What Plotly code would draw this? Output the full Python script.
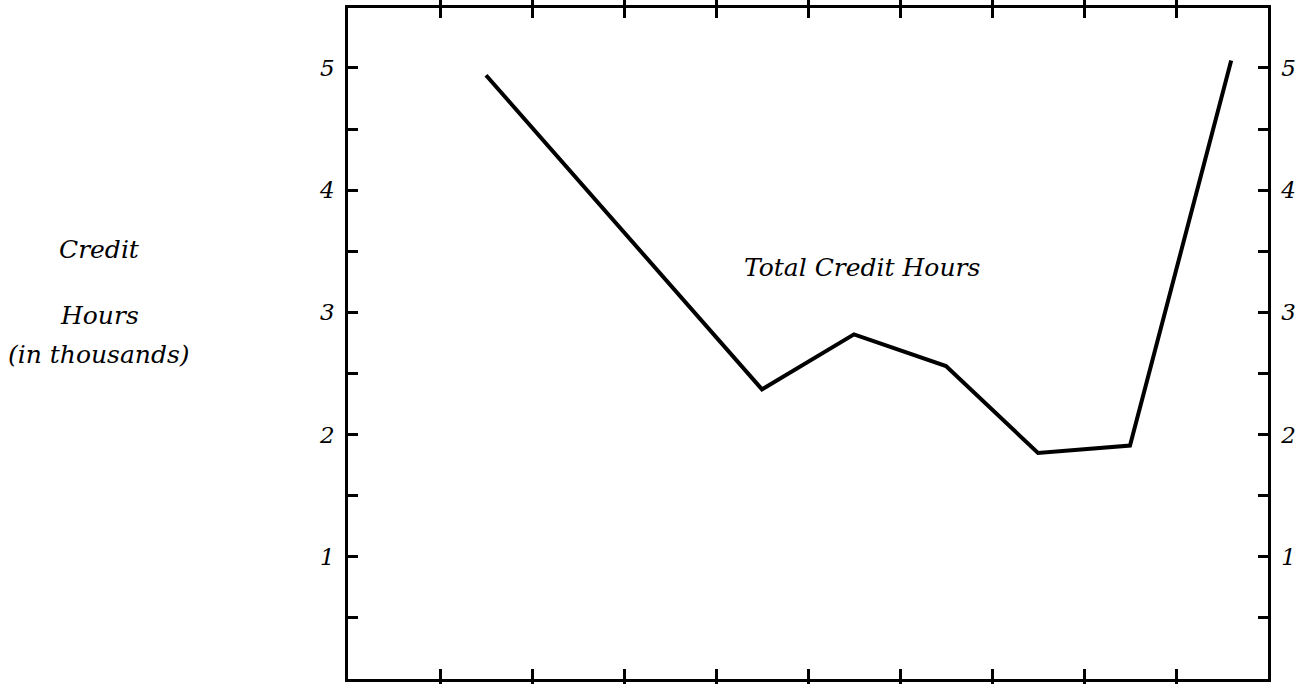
import plotly.graph_objects as go

# Term positions along the horizontal axis (ten equal divisions) and total credit hours (thousands)
term_pos = [1.5, 3.5, 4.5, 5.5, 6.5, 7.5, 8.5, 9.6]
credit_hours = [4.94, 3.23, 2.37, 2.82, 2.56, 1.85, 1.91, 5.06]

y_tick_vals = [0.5, 1, 1.5, 2, 2.5, 3, 3.5, 4, 4.5, 5]
y_tick_text = ["", "1", "", "2", "", "3", "", "4", "", "5"]
x_tick_vals = [1, 2, 3, 4, 5, 6, 7, 8, 9]

serif = "DejaVu Serif"
text_font = dict(family=serif, size=25, color="black", style="italic")
tick_font = dict(family=serif, size=23, color="black", style="italic")

fig = go.Figure()
fig.add_trace(go.Scatter(
    x=term_pos, y=credit_hours, mode="lines",
    line=dict(color="black", width=4), showlegend=False,
))
# invisible companion trace so the right-hand axis is drawn
fig.add_trace(go.Scatter(
    x=term_pos, y=credit_hours, yaxis="y2", mode="lines",
    line=dict(color="rgba(0,0,0,0)", width=0), showlegend=False, hoverinfo="skip",
))

axis_common = dict(
    showgrid=False, zeroline=False, showline=True, linecolor="black", linewidth=2.5,
    ticks="inside", ticklen=10, tickwidth=2.5, tickcolor="black",
)

margin_l, margin_r, margin_t, margin_b = 348, 38, 8, 5
fig.update_layout(
    width=1306, height=684,
    margin=dict(l=margin_l, r=margin_r, t=margin_t, b=margin_b),
    paper_bgcolor="white", plot_bgcolor="white",
    xaxis=dict(range=[0, 10], tickvals=x_tick_vals, showticklabels=False,
               mirror="allticks", **axis_common),
    yaxis=dict(range=[0, 5.49], tickvals=y_tick_vals, ticktext=y_tick_text,
               tickfont=tick_font, ticklabelstandoff=6, **axis_common),
    yaxis2=dict(range=[0, 5.49], overlaying="y", side="right", matches="y",
                tickvals=y_tick_vals, ticktext=y_tick_text,
                tickfont=tick_font, ticklabelstandoff=6, **axis_common),
)

fig.add_annotation(
    text="Total Credit Hours", x=5.59, y=3.37, xref="x", yref="y",
    showarrow=False, xanchor="center", yanchor="middle", font=text_font,
)

# Left-hand axis title, three stacked lines placed in pixel space
title_lines = [("Credit", 250), ("Hours", 315), ("(in thousands)", 355)]
plot_h = 684 - margin_t - margin_b
plot_w = 1306 - margin_l - margin_r
for txt, py in title_lines:
    fig.add_annotation(
        text=txt, showarrow=False, xref="paper", yref="paper",
        x=(99 - margin_l) / plot_w, y=(684 - margin_b - py) / plot_h,
        xanchor="center", yanchor="middle", font=text_font,
    )

fig.write_html("out.html")
